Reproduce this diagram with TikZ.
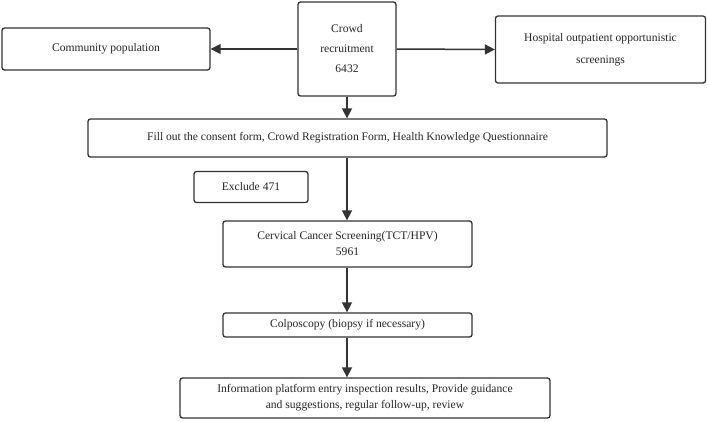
\documentclass[tikz,border=0pt]{standalone}
\usepackage{fontspec}
\setmainfont{Liberation Serif}
\usetikzlibrary{arrows.meta}
\begin{document}
\begin{tikzpicture}[x=1pt,y=-1pt,
  box/.style={draw=black!80, line width=1.3pt, rounded corners=2.5pt, fill=white,
    inner sep=0pt, align=center, font=\fontsize{11.6}{20}\selectfont, text=black!85},
  arr/.style={draw=black!80, line width=1.5pt, -{Triangle[length=10pt,width=10pt]}}]
\useasboundingbox (0,0) rectangle (708,421);
\node[box, minimum width=98pt, minimum height=94pt] (crowd) at (347,49) {Crowd\\recruitment\\6432};
\node[box, minimum width=208pt, minimum height=42pt] (comm) at (106,49) {Community population};
\node[box, minimum width=210pt, minimum height=67pt, font=\fontsize{11.6}{22}\selectfont] (hosp) at (600.5,49.5) {Hospital outpatient opportunistic\\screenings};
\node[box, minimum width=519pt, minimum height=38pt] (fill) at (347.5,138) {Fill out the consent form, Crowd Registration Form, Health Knowledge Questionnaire};
\node[box, minimum width=114pt, minimum height=31pt] (excl) at (251,187) {Exclude 471};
\node[box, minimum width=249pt, minimum height=46pt, font=\fontsize{11.6}{16}\selectfont] (cerv) at (347.5,244) {Cervical Cancer Screening(TCT/HPV)\\5961};
\node[box, minimum width=249pt, minimum height=24pt] (colp) at (347.5,325) {Colposcopy (biopsy if necessary)};
\node[box, minimum width=370pt, minimum height=40pt, font=\fontsize{11.6}{16}\selectfont] (info) at (365,398) {Information platform entry inspection results, Provide guidance\\and suggestions, regular follow-up, review};
\draw[arr] (crowd.west) -- (comm.east);
\draw[arr] (crowd.east) -- (hosp.west);
\draw[arr] (crowd.south) -- (crowd.south |- fill.north);
\draw[arr] (crowd.south |- fill.south) -- (crowd.south |- cerv.north);
\draw[arr] (crowd.south |- cerv.south) -- (crowd.south |- colp.north);
\draw[arr] (crowd.south |- colp.south) -- (crowd.south |- info.north);
\end{tikzpicture}
\end{document}
